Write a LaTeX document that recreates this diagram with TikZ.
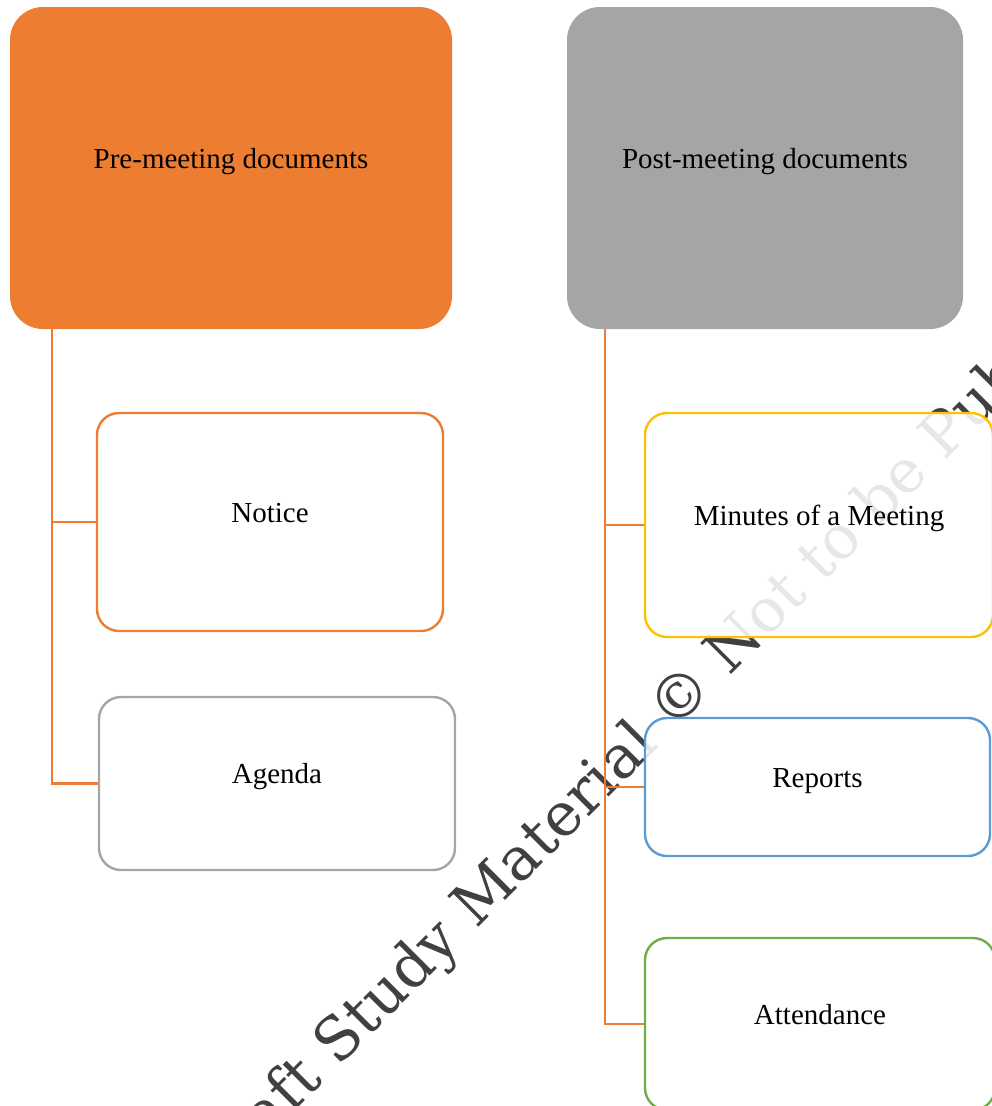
\documentclass[tikz,border=0pt]{standalone}
\usepackage{fontspec}
\setmainfont{Liberation Serif}
\newfontfamily\wmfont{DejaVu Serif}
\definecolor{acorange}{HTML}{ED7D31}
\definecolor{acgray}{HTML}{A5A5A5}
\definecolor{acyellow}{HTML}{FFC000}
\definecolor{acblue}{HTML}{5B9BD5}
\definecolor{acgreen}{HTML}{70AD47}
\definecolor{wmgray}{HTML}{404040}
\begin{document}
\begin{tikzpicture}[x=1pt,y=1pt,
  basebox/.style={rectangle, inner sep=0pt, font=\fontsize{29}{34}\selectfont,
    text height=10pt, text depth=10pt, text=black},
  topbox/.style={basebox, rounded corners=33pt, draw=none},
  childbox/.style={basebox, rounded corners=22pt, line width=2.4pt,
    fill=white, fill opacity=0.88, text opacity=1, draw opacity=1},
  conn/.style={draw=acorange, line width=2.4pt},
  wm/.style={font=\wmfont\fontsize{60}{72}\selectfont, text=wmgray, inner sep=0pt}]
\useasboundingbox (0,0) rectangle (992,-1106);
\clip (0,0) rectangle (992,-1106);

% watermark
\node[wm, anchor=base west, rotate=45] (wm2) at (476.4,-929.6) {Material © Not to be Published};
\node[wm, anchor=base east, rotate=45] (wm1) at (wm2.base west) {Draft Study\kern0.32em};

% top boxes
\node[topbox, fill=acorange, minimum width=442pt, minimum height=322pt] (pre) at (231,-168) {Pre-meeting documents};
\node[topbox, fill=acgray, minimum width=396pt, minimum height=322pt] (post) at (765,-168) {Post-meeting documents};

% trunk start points
\path (pre.south west) ++(42,0) coordinate (lt);
\path (post.south west) ++(38,0) coordinate (rt);

% child boxes
\node[childbox, draw=acorange, minimum width=346pt, minimum height=218pt] (notice) at (270,-522) {Notice};
\node[childbox, draw=acgray, minimum width=356pt, minimum height=173pt] (agenda) at (277,-783.5) {Agenda};
\node[childbox, draw=acyellow, minimum width=348pt, minimum height=224pt] (minutes) at (819,-525) {Minutes of a Meeting};
\node[childbox, draw=acblue, minimum width=345pt, minimum height=138pt] (reports) at (817.5,-787) {Reports};
\node[childbox, draw=acgreen, minimum width=350pt, minimum height=172pt] (attend) at (820,-1024) {Attendance};

% connectors
\draw[conn] (lt) |- (notice.west);
\draw[conn] (lt) |- (agenda.west);
\draw[conn] (rt) |- (minutes.west);
\draw[conn] (rt) |- (reports.west);
\draw[conn] (rt) |- (attend.west);
\end{tikzpicture}
\end{document}
